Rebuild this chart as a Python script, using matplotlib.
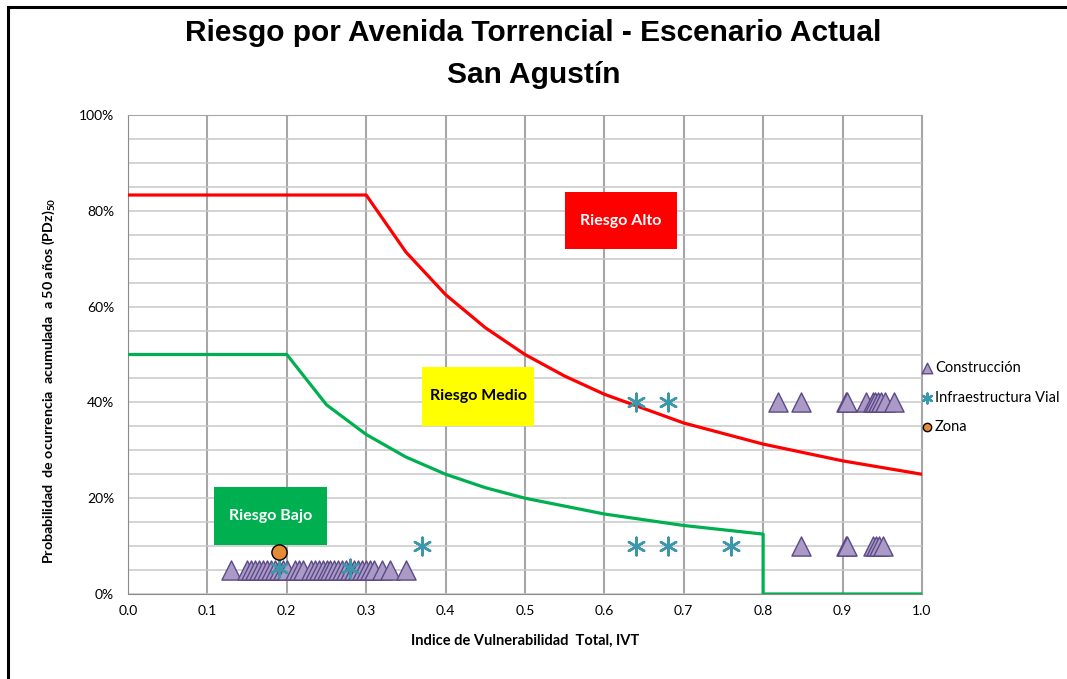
import numpy as np
import matplotlib
matplotlib.use("Agg")
from matplotlib import pyplot as plt
from matplotlib.patches import Rectangle
from matplotlib.ticker import FuncFormatter, MultipleLocator

plt.rcParams["mathtext.fontset"] = "custom"
plt.rcParams["mathtext.rm"] = "Lato:bold"
plt.rcParams["mathtext.bf"] = "Lato:bold"

# risk limit curves (IVT vs probability)
alto_x = [0.0, 0.3, 0.35, 0.4, 0.45, 0.5, 0.55, 0.6, 0.7, 0.8, 0.9, 1.0]
alto_y = [0.833, 0.833, 0.714, 0.625, 0.556, 0.5, 0.455, 0.417, 0.357, 0.313, 0.278, 0.25]
bajo_x = [0.0, 0.2, 0.25, 0.3, 0.35, 0.4, 0.45, 0.5, 0.6, 0.7, 0.8, 0.8, 1.0]
bajo_y = [0.5, 0.5, 0.395, 0.333, 0.286, 0.25, 0.222, 0.2, 0.167, 0.143, 0.125, 0.0, 0.0]

# Construccion
cons_x = [0.13, 0.15, 0.155, 0.16, 0.165, 0.17, 0.175, 0.18, 0.185, 0.19, 0.195, 0.2,
          0.21, 0.215, 0.22, 0.23, 0.235, 0.24, 0.245, 0.25, 0.255, 0.26, 0.265, 0.27,
          0.275, 0.28, 0.285, 0.29, 0.295, 0.3, 0.305, 0.31, 0.32, 0.33, 0.35,
          0.848, 0.905, 0.906, 0.938, 0.942, 0.946, 0.951,
          0.819, 0.848, 0.905, 0.906, 0.929, 0.938, 0.941, 0.945, 0.948, 0.953, 0.965]
cons_y = [0.05] * 35 + [0.10] * 7 + [0.40] * 11

# Infraestructura Vial
vial_x = [0.19, 0.28, 0.37, 0.64, 0.68, 0.76, 0.64, 0.68]
vial_y = [0.055, 0.055, 0.10, 0.10, 0.10, 0.10, 0.40, 0.40]

# Zona
zona_x = [0.19]
zona_y = [0.087]

# zone label boxes: text, (x0, y0, w, h) in data units, fill, text colour
zonas = [
    ("Riesgo Alto", (0.55, 0.72, 0.141, 0.119), "#ff0000", "white"),
    ("Riesgo Medio", (0.370, 0.351, 0.142, 0.123), "#ffff00", "black"),
    ("Riesgo Bajo", (0.108, 0.102, 0.143, 0.121), "#00b050", "white"),
]

fig = plt.figure(figsize=(10.67, 6.79), dpi=100)
ax = fig.add_axes([0.12, 0.1252, 0.744, 0.7054])

ax.plot(alto_x, alto_y, color="#ff0000", lw=2.3, zorder=3)
ax.plot(bajo_x, bajo_y, color="#00b050", lw=2.3, zorder=3)

ax.scatter(cons_x, cons_y, marker="^", s=190, facecolor="#ab9ac6",
           edgecolor="#5b4a86", linewidth=1.0, zorder=4, label="Construcción")
ax.scatter(vial_x, vial_y, marker=(6, 2, 0), s=160, color="#3d97ab",
           linewidth=1.8, zorder=5, label="Infraestructura Vial")
ax.scatter(zona_x, zona_y, marker="o", s=120, facecolor="#e58a35",
           edgecolor="black", linewidth=1.0, zorder=6, label="Zona")

ax.set_xlim(0, 1)
ax.set_ylim(0, 1)
ax.xaxis.set_major_locator(MultipleLocator(0.1))
ax.yaxis.set_major_locator(MultipleLocator(0.2))
ax.yaxis.set_minor_locator(MultipleLocator(0.05))
ax.xaxis.set_major_formatter(FuncFormatter(lambda v, p: f"{v:.1f}"))
ax.yaxis.set_major_formatter(FuncFormatter(lambda v, p: f"{v * 100:.0f}%"))

ax.grid(axis="y", which="both", color="#c8c8c8", lw=1.1, zorder=0)
ax.grid(axis="x", which="major", color="#a6a6a6", lw=1.5, zorder=0)
ax.set_axisbelow(True)
for s in ax.spines.values():
    s.set_color("#a6a6a6")
ax.spines["left"].set_color("#8c8c8c")
ax.spines["bottom"].set_color("#8c8c8c")
ax.tick_params(axis="both", which="both", length=0, labelsize=10, pad=8,
               labelfontfamily="Lato")
ax.tick_params(axis="y", pad=10)

ax.set_xlabel("Indice de Vulnerabilidad  Total, IVT", fontsize=10.5, fontweight="bold",
              family="Lato", labelpad=12)
ax.set_ylabel("Probabilidad  de ocurrencia  acumulada  a 50 años (PDz)$_{\\mathrm{50}}$",
              fontsize=10.3, fontweight="bold", family="Lato")
ax.yaxis.set_label_coords(-0.09, 0.445)

for label, (x0, y0, w, h), fc, tc in zonas:
    ax.add_patch(Rectangle((x0, y0), w, h, fc=fc, ec="none", zorder=2))
    ax.text(x0 + w / 2, y0 + h / 2, label, color=tc, fontsize=11.5, fontweight="bold",
            family="Lato", ha="center", va="center", zorder=2)

leg = ax.legend(loc="center left", bbox_to_anchor=(0.99, 0.41), frameon=False,
                prop={"family": "Lato", "size": 10.5}, handletextpad=0.05,
                handlelength=1.0, labelspacing=1.05, markerscale=0.55,
                borderaxespad=0)

fig.text(0.5, 0.952, "Riesgo por Avenida Torrencial - Escenario Actual",
         ha="center", va="center", fontsize=21.5, fontweight="bold", family="Liberation Sans")
fig.text(0.5, 0.89, "San Agustín", ha="center", va="center", fontsize=21.5,
         fontweight="bold", family="Liberation Sans")

# outer chart frame
fig.patches.append(Rectangle((8 / 1067, -0.5), 2.0, 1.5 - 7 / 679, transform=fig.transFigure,
                             fill=False, ec="black", lw=2.2, zorder=10))

fig.savefig("out.png", dpi=100)
